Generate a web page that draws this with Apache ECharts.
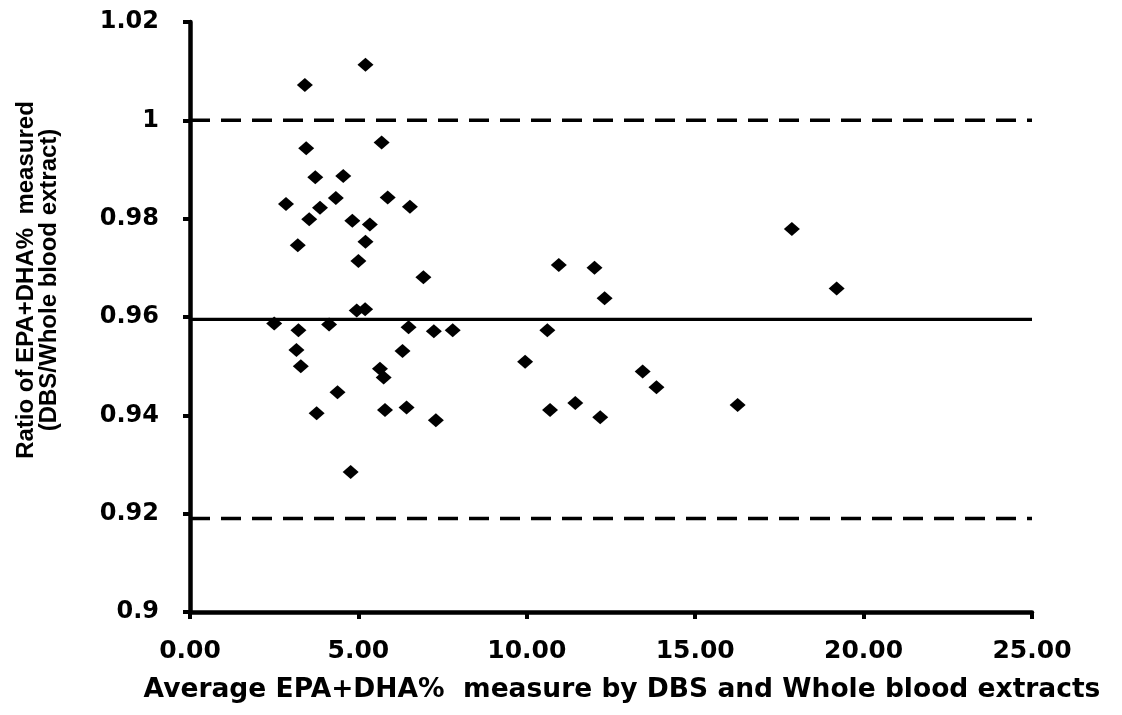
<!DOCTYPE html>
<html>
<head>
<meta charset="utf-8">
<script src="https://cdn.jsdelivr.net/npm/echarts@6/dist/echarts.min.js"></script>
<style>
  html, body { margin: 0; padding: 0; background: #fff; }
  #chart { width: 1122px; height: 715px; }
</style>
</head>
<body>
<div id="chart"></div>
<script>
// Average EPA+DHA% (x) and DBS / whole blood ratio (y) for each sample
const avgEpaDha = [
  5.21, 3.41, 3.45, 5.69, 3.72, 4.55, 2.85, 3.86, 4.33, 5.87,
  6.53, 3.54, 4.82, 5.34, 3.20, 5.21, 5.00, 6.93,
  4.95, 5.20, 2.50, 3.22, 4.13, 6.49, 7.24, 7.80, 3.16, 6.31,
  3.29, 5.64, 5.75, 4.38, 3.76, 5.79, 6.43, 7.30, 4.77,
  10.95, 12.01, 12.31, 17.87, 19.20, 10.61, 9.95, 13.44, 13.85,
  10.69, 11.44, 12.18, 16.26
];
const ratio = [
  1.0113, 1.0072, 0.9943, 0.9955, 0.9884, 0.9887, 0.9830, 0.9822, 0.9842, 0.9843,
  0.9824, 0.9799, 0.9796, 0.9788, 0.9746, 0.9753, 0.9714, 0.9681,
  0.9613, 0.9616, 0.9587, 0.9573, 0.9585, 0.9579, 0.9571, 0.9573, 0.9533, 0.9531,
  0.9500, 0.9495, 0.9477, 0.9447, 0.9404, 0.9411, 0.9416, 0.9390, 0.9285,
  0.9706, 0.9700, 0.9638, 0.9779, 0.9658, 0.9573, 0.9509, 0.9489, 0.9457,
  0.9411, 0.9425, 0.9396, 0.9421
];

// Mean ratio and limits of agreement, drawn across the x range
const xSpan = [0, 25];
const meanRatio = 0.9595;
const upperLimit = 1.0;
const lowerLimit = 0.919;

const yTicks = { min: 0.9, max: 1.02, step: 0.02 };
const xTicks = { min: 0, max: 25, step: 5 };

const points = avgEpaDha.map((x, i) => [x, ratio[i]]);
const hLine = v => xSpan.map(x => [x, v]);

const WIDE = '"DejaVu Sans", "Liberation Sans", sans-serif';
const NARROW = '"Liberation Sans", Arial, sans-serif';

const chart = echarts.init(document.getElementById('chart'), null, { renderer: 'canvas' });
chart.setOption({
  animation: false,
  backgroundColor: '#ffffff',
  grid: { left: 190, right: 90, top: 22, bottom: 103, containLabel: false, outerBoundsMode: 'none' },
  xAxis: {
    type: 'value',
    min: xTicks.min, max: xTicks.max, interval: xTicks.step,
    name: 'Average EPA+DHA%  measure by DBS and Whole blood extracts',
    nameLocation: 'middle',
    nameGap: 65,
    nameTextStyle: { fontFamily: WIDE, fontWeight: 'bold', fontSize: 26.5, color: '#000', padding: [0, 0, 0, 22] },
    axisLine: { onZero: false, lineStyle: { color: '#000', width: 4.5 } },
    axisTick: { show: true, length: 7, lineStyle: { color: '#000', width: 4 } },
    axisLabel: {
      fontFamily: WIDE, fontWeight: 'bold', fontSize: 25, color: '#000', margin: 27,
      formatter: v => v.toFixed(2)
    },
    splitLine: { show: false }
  },
  yAxis: {
    type: 'value',
    min: yTicks.min, max: yTicks.max, interval: yTicks.step,
    name: 'Ratio of EPA+DHA%  measured\n(DBS/Whole blood extract)',
    nameLocation: 'middle',
    nameGap: 129,
    nameRotate: 90,
    nameTextStyle: {
      fontFamily: NARROW, fontWeight: 'bold', fontSize: 24, color: '#000', lineHeight: 23,
      padding: [0, 0, 0, 74]
    },
    axisLine: { onZero: false, lineStyle: { color: '#000', width: 4.5 } },
    axisTick: { show: true, length: 7, lineStyle: { color: '#000', width: 4 } },
    axisLabel: {
      fontFamily: WIDE, fontWeight: 'bold', fontSize: 24, color: '#000', margin: 31,
      formatter: v => String(parseFloat(v.toFixed(2)))
    },
    splitLine: { show: false }
  },
  series: [
    {
      type: 'line', data: hLine(upperLimit), symbol: 'none', silent: true,
      lineStyle: { color: '#000', width: 3.5, type: [20, 11] }, z: 1
    },
    {
      type: 'line', data: hLine(lowerLimit), symbol: 'none', silent: true,
      lineStyle: { color: '#000', width: 3.5, type: [20, 11] }, z: 1
    },
    {
      type: 'line', data: hLine(meanRatio), symbol: 'none', silent: true,
      lineStyle: { color: '#000', width: 3.3, type: 'solid' }, z: 1
    },
    {
      type: 'scatter', data: points, symbol: 'diamond', symbolSize: [16, 14],
      itemStyle: { color: '#000', opacity: 1 }, z: 3
    }
  ]
});
</script>
</body>
</html>
